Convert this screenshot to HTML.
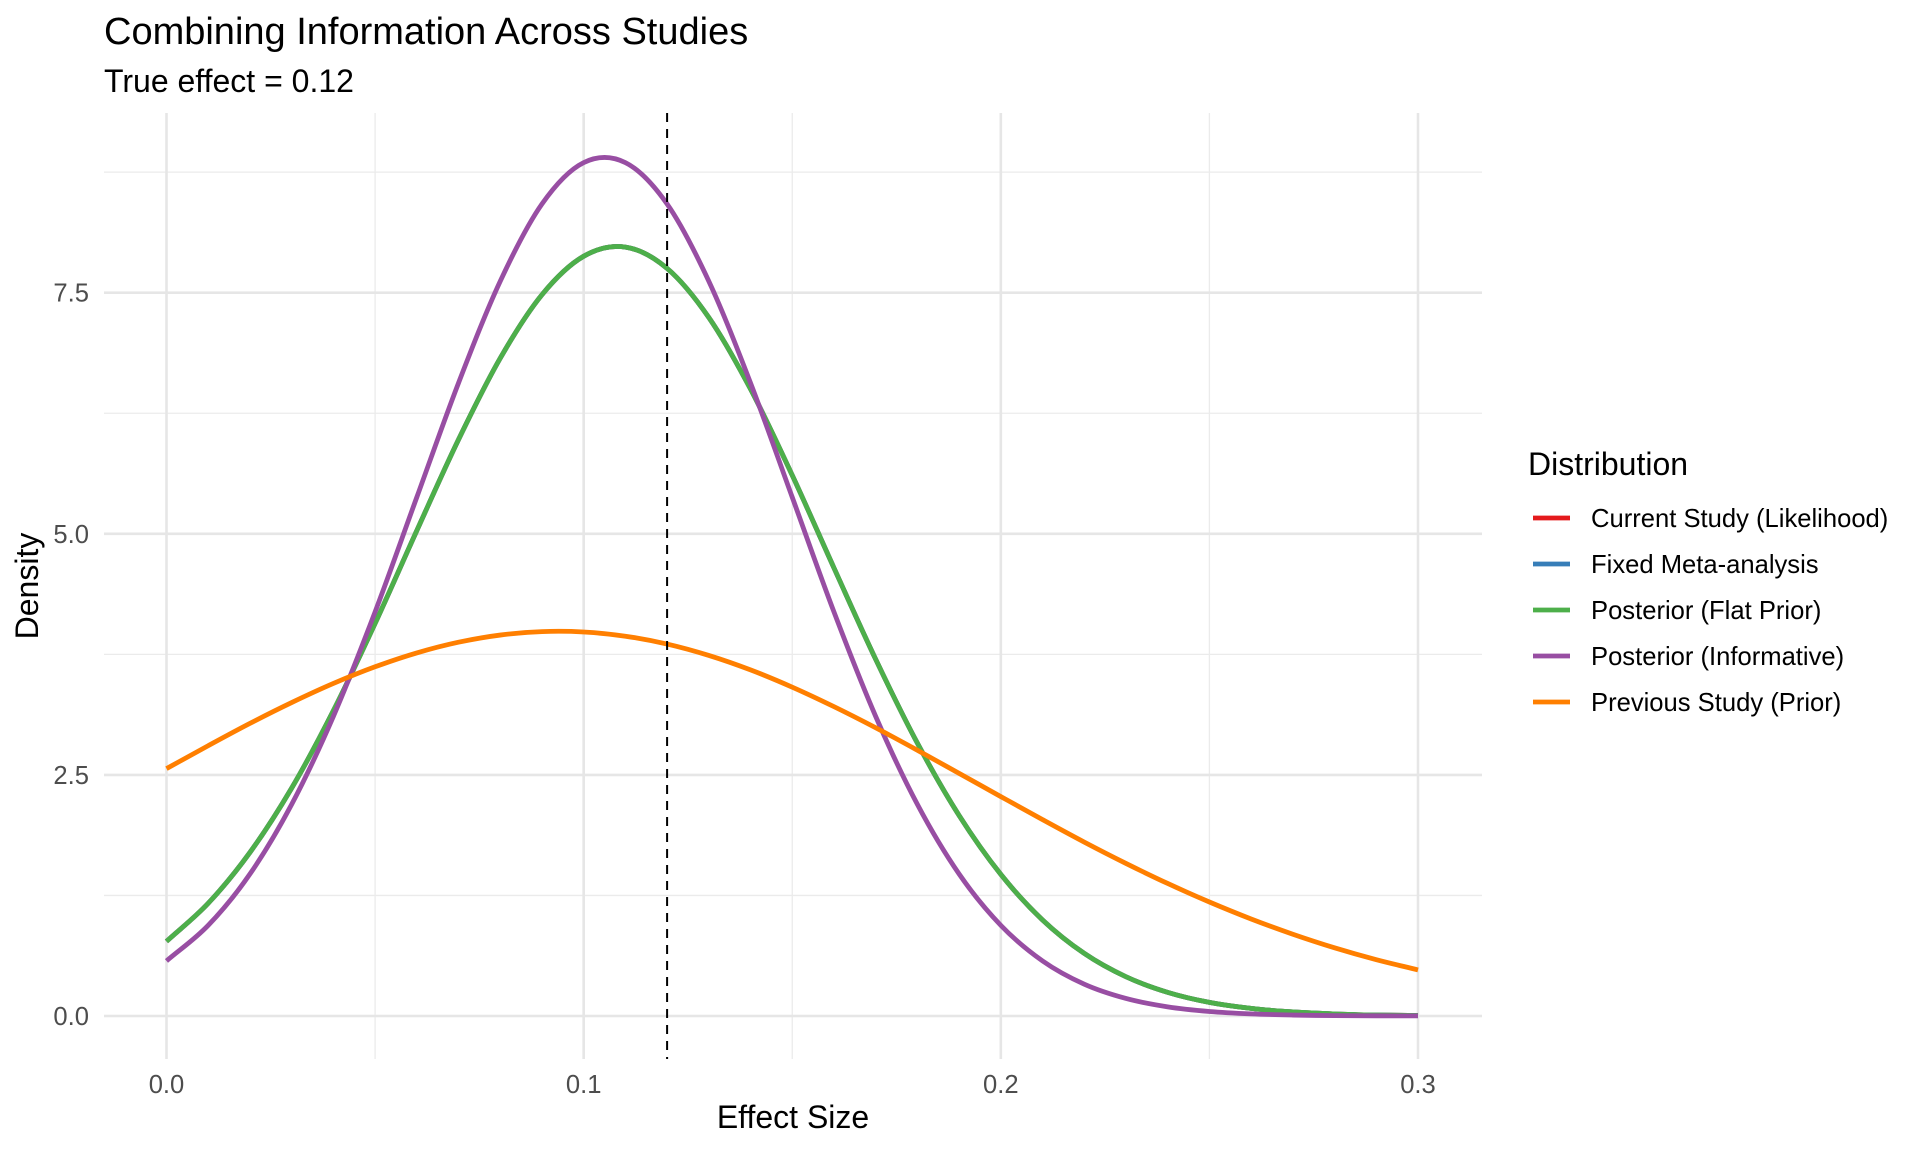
<!DOCTYPE html>
<html><head><meta charset="utf-8">
<style>
html,body{margin:0;padding:0;background:#fff;}
svg{display:block;font-family:"Liberation Sans",Arial,sans-serif;}
</style></head>
<body>
<svg id="chart" width="1920" height="1152" viewBox="0 0 1920 1152" xmlns="http://www.w3.org/2000/svg">
  <rect width="1920" height="1152" fill="#fff"/>
  <text x="104" y="44" font-size="38" fill="#000">Combining Information Across Studies</text>
  <text x="104" y="92" font-size="32" fill="#000">True effect = 0.12</text>
  <g id="grid"></g>
  <g id="series"></g>
  <g id="axes"></g>
  <text x="793" y="1128" font-size="32" text-anchor="middle" fill="#000">Effect Size</text>
  <text transform="translate(38,586) rotate(-90)" font-size="32" text-anchor="middle" fill="#000">Density</text>
  <g id="legend">
    <text x="1528" y="475" font-size="32" fill="#000">Distribution</text>
  </g>
</svg>
<script>
const xs = [0,0.01,0.02,0.03,0.04,0.05,0.06,0.07,0.08,0.09,0.10,0.11,0.12,0.13,0.14,0.15,0.16,0.17,0.18,0.19,0.20,0.21,0.22,0.23,0.24,0.25,0.26,0.27,0.28,0.29,0.30];
const currentStudy = [0.774,1.169,1.696,2.363,3.165,4.071,5.033,5.977,6.821,7.479,7.878,7.973,7.752,7.243,6.501,5.607,4.646,3.699,2.829,2.079,1.468,0.996,0.649,0.407,0.245,0.141,0.079,0.042,0.021,0.010,0.005];
const fixedMeta = [0.774,1.169,1.696,2.363,3.165,4.071,5.033,5.977,6.821,7.479,7.878,7.973,7.752,7.243,6.501,5.607,4.646,3.699,2.829,2.079,1.468,0.996,0.649,0.407,0.245,0.141,0.079,0.042,0.021,0.010,0.005];
const postFlat = [0.774,1.169,1.696,2.363,3.165,4.071,5.033,5.977,6.821,7.479,7.878,7.973,7.752,7.243,6.501,5.607,4.646,3.699,2.829,2.079,1.468,0.996,0.649,0.407,0.245,0.141,0.079,0.042,0.021,0.010,0.005];
const postInformative = [0.571,0.940,1.472,2.194,3.107,4.190,5.379,6.564,7.619,8.420,8.849,8.849,8.420,7.619,6.564,5.379,4.190,3.107,2.194,1.472,0.940,0.571,0.330,0.182,0.095,0.047,0.022,0.010,0.004,0.002,0.001];
const prevStudy = [2.565,2.803,3.034,3.250,3.448,3.621,3.765,3.876,3.950,3.986,3.982,3.938,3.857,3.739,3.589,3.410,3.208,2.989,2.756,2.516,2.275,2.036,1.803,1.582,1.374,1.182,1.006,0.848,0.707,0.584,0.478];
const seriesNames = ["Current Study (Likelihood)","Fixed Meta-analysis","Posterior (Flat Prior)","Posterior (Informative)","Previous Study (Prior)"];
const seriesColors = ["#E41A1C","#377EB8","#4DAF4A","#984EA3","#FF7F00"];
const seriesData = [currentStudy, fixedMeta, postFlat, postInformative, prevStudy];
const xTicks = [0,0.1,0.2,0.3];
const xTickLabels = ["0.0","0.1","0.2","0.3"];
const xMinor = [0.05,0.15,0.25];
const yTicks = [0,2.5,5,7.5];
const yTickLabels = ["0.0","2.5","5.0","7.5"];
const yMinor = [1.25,3.75,6.25,8.75];
const trueEffect = 0.12;

const NS="http://www.w3.org/2000/svg";
const PL=104, PR=1482, PT=113, PB=1059;
const X0=166.5, X1=1418;
function sx(v){return X0+(X1-X0)*v/0.3;}
function sy(v){return 1016-(1016-292.7)*v/7.5;}
function mk(tag,attrs,parent){const e=document.createElementNS(NS,tag);for(const k in attrs)e.setAttribute(k,attrs[k]);parent.appendChild(e);return e;}

const grid=document.getElementById('grid');
yMinor.forEach(v=>{const l=mk('line',{x1:PL,x2:PR,y1:sy(v),y2:sy(v),stroke:'#ebebeb','stroke-width':1.3},grid);

});
xMinor.forEach(v=>{const l=mk('line',{x1:sx(v),x2:sx(v),y1:PT,y2:PB,stroke:'#ebebeb','stroke-width':1.3},grid);

});
yTicks.forEach(v=>{const l=mk('line',{x1:PL,x2:PR,y1:sy(v),y2:sy(v),stroke:'#e6e6e6','stroke-width':2.6},grid);

});
xTicks.forEach(v=>{const l=mk('line',{x1:sx(v),x2:sx(v),y1:PT,y2:PB,stroke:'#e6e6e6','stroke-width':2.6},grid);

});

const axes=document.getElementById('axes');
xTicks.forEach((v,i)=>{const t=mk('text',{x:sx(v),y:1093,'font-size':25.6,'text-anchor':'middle',fill:'#4d4d4d'},axes);t.textContent=xTickLabels[i];

});
yTicks.forEach((v,i)=>{const t=mk('text',{x:89,y:sy(v)+9,'font-size':25.6,'text-anchor':'end',fill:'#4d4d4d'},axes);t.textContent=yTickLabels[i];

});

function pathFor(ys){
  const p=xs.map((x,i)=>[sx(x),sy(ys[i])]);
  const n=p.length;
  const ext=(a,b)=>[2*a[0]-b[0],2*a[1]-b[1]];
  let d='M'+p[0][0].toFixed(2)+','+p[0][1].toFixed(2);
  for(let i=0;i<n-1;i++){
    const p0=i>0?p[i-1]:ext(p[0],p[1]),p1=p[i],p2=p[i+1],p3=i+2<n?p[i+2]:ext(p[n-1],p[n-2]);
    const c1=[p1[0]+(p2[0]-p0[0])/6,p1[1]+(p2[1]-p0[1])/6];
    const c2=[p2[0]-(p3[0]-p1[0])/6,p2[1]-(p3[1]-p1[1])/6];
    d+=' C'+c1[0].toFixed(2)+','+c1[1].toFixed(2)+' '+c2[0].toFixed(2)+','+c2[1].toFixed(2)+' '+p2[0].toFixed(2)+','+p2[1].toFixed(2);
  }
  return d;
}
const sg=document.getElementById('series');
seriesData.forEach((ys,i)=>{
  const pth=mk('path',{d:pathFor(ys),fill:'none',stroke:seriesColors[i],'stroke-width':4.8,'stroke-linejoin':'round'},sg);
  
  
});
const vl=mk('line',{x1:sx(trueEffect),x2:sx(trueEffect),y1:PT,y2:PB,stroke:'#000','stroke-width':2,'stroke-dasharray':'9,7'},sg);



const lg=document.getElementById('legend');
const lys=[518,564,610,656,702];
seriesNames.forEach((n,i)=>{
  const g=mk('g',{},lg);
  
  
  const k=mk('line',{x1:1533,x2:1570,y1:lys[i],y2:lys[i],stroke:seriesColors[i],'stroke-width':4.8},g);
  
  
  const t=mk('text',{x:1591,y:lys[i]+9,'font-size':25.6,fill:'#000'},g);t.textContent=n;
  
  
});
</script>
</body></html>
